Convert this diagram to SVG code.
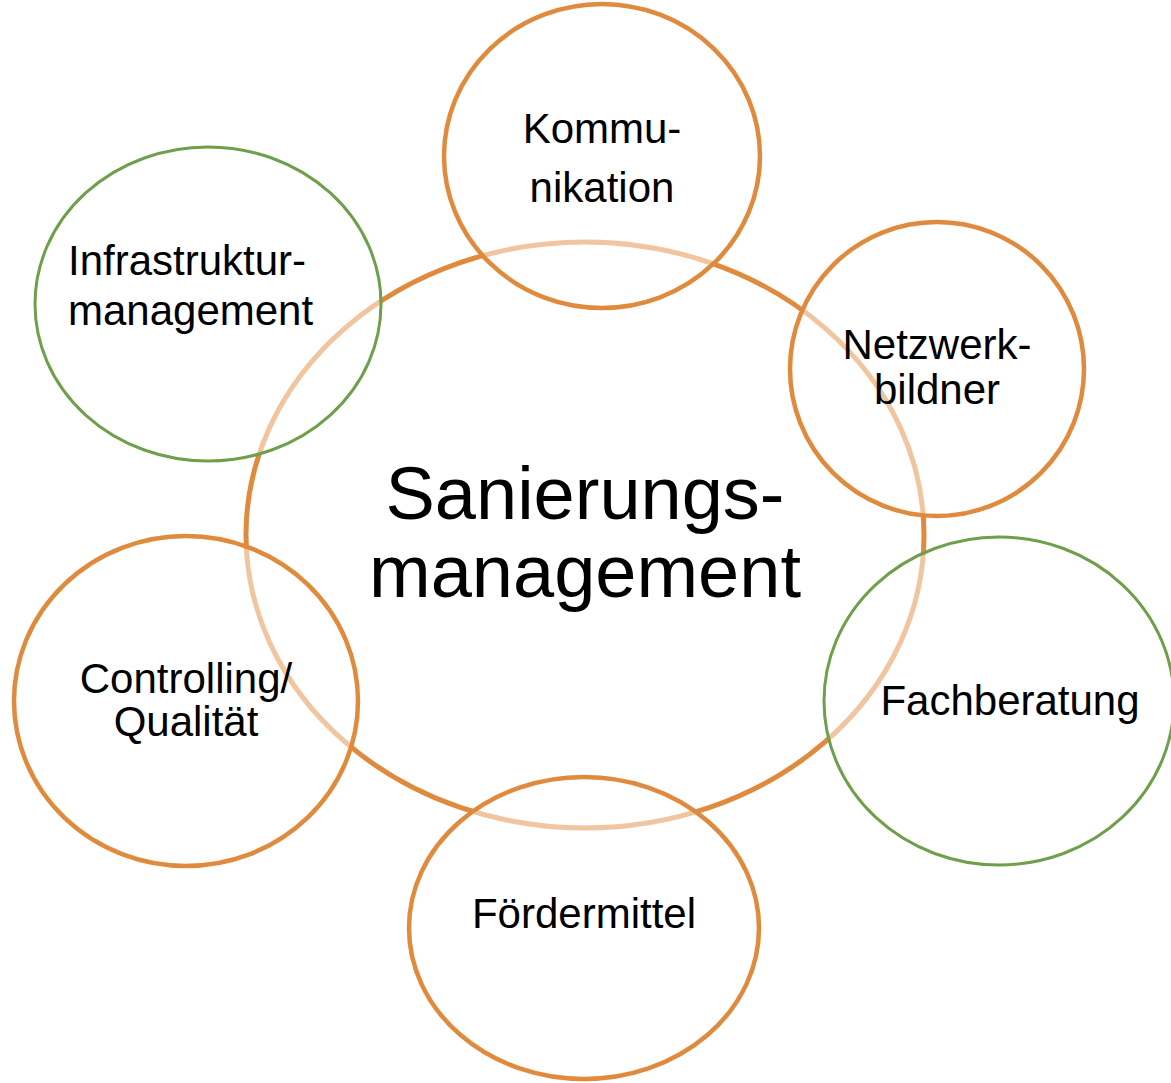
<svg xmlns="http://www.w3.org/2000/svg" width="1171" height="1083" viewBox="0 0 1171 1083">
<style>
.bg{fill:#ffffff}
.main{fill:none;stroke:#E08A3E;stroke-width:5}
.orange{fill:#ffffff;fill-opacity:0.5;stroke:#E08A3E;stroke-width:4.5}
.green{fill:#ffffff;fill-opacity:0.5;stroke:#6E9F4A;stroke-width:3}
.lbl{font-family:"Liberation Sans",Arial,sans-serif;font-size:42px;fill:#000000;text-anchor:middle}
.big{font-family:"Liberation Sans",Arial,sans-serif;font-size:74px;fill:#000000;text-anchor:middle}
</style>
<rect class="bg" x="0" y="0" width="1171" height="1083"/>
<g id="connectors"></g>
<g id="sanierungsmanagement">
  <ellipse class="main" cx="585" cy="535" rx="339" ry="293"/>
</g>
<g id="kommunikation">
  <ellipse class="orange" cx="602" cy="156" rx="158" ry="152"/>
</g>
<g id="infrastrukturmanagement">
  <ellipse class="green" cx="208" cy="304" rx="173" ry="157"/>
</g>
<g id="netzwerkbildner">
  <ellipse class="orange" cx="937" cy="369" rx="147" ry="147"/>
</g>
<g id="fachberatung">
  <ellipse class="green" cx="999" cy="701" rx="175" ry="164"/>
</g>
<g id="controlling">
  <ellipse class="orange" cx="186" cy="701" rx="172" ry="165"/>
</g>
<g id="foerdermittel">
  <ellipse class="orange" cx="584" cy="928" rx="175" ry="151"/>
</g>
<g id="labels">
  <text class="big" x="585" y="519">Sanierungs-</text>
  <text class="big" x="585" y="597">management</text>
  <text class="lbl" x="602" y="143">Kommu-</text>
  <text class="lbl" x="602" y="202">nikation</text>
  <text class="lbl" x="68" y="275" style="text-anchor:start">Infrastruktur-</text>
  <text class="lbl" x="68" y="325" style="text-anchor:start">management</text>
  <text class="lbl" x="937" y="359">Netzwerk-</text>
  <text class="lbl" x="937" y="404">bildner</text>
  <text class="lbl" x="1010" y="715">Fachberatung</text>
  <text class="lbl" x="186" y="693">Controlling/</text>
  <text class="lbl" x="186" y="736">Qualität</text>
  <text class="lbl" x="584" y="928">Fördermittel</text>
</g>
</svg>
